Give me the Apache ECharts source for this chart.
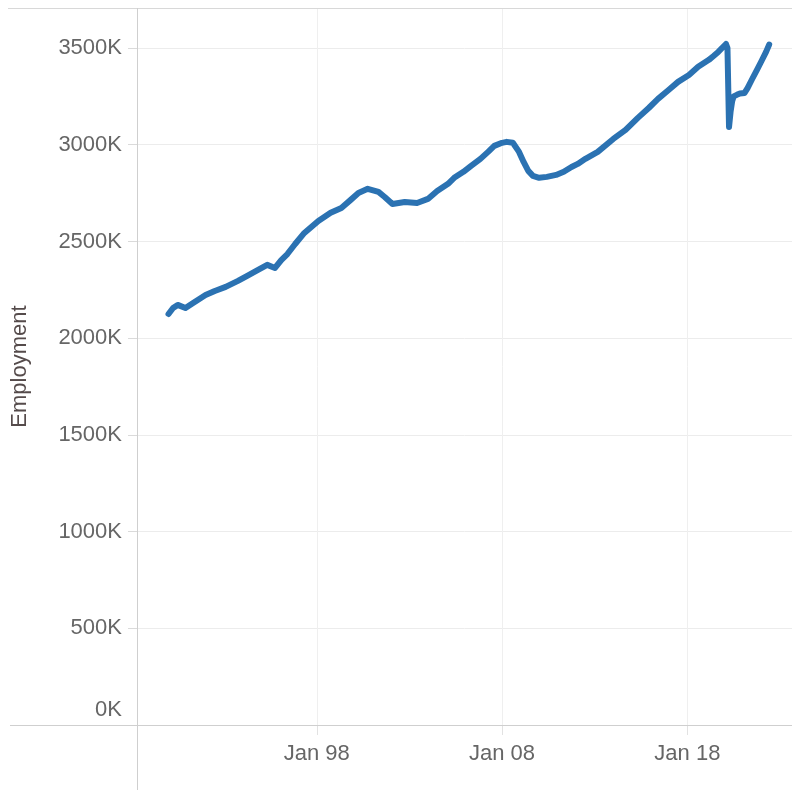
<!DOCTYPE html>
<html>
<head>
<meta charset="utf-8">
<script src="https://cdn.jsdelivr.net/npm/echarts@6/dist/echarts.min.js"></script>
<style>
  html, body { margin: 0; padding: 0; background: #fff; }
  #chart { width: 792px; height: 790px; }
</style>
</head>
<body>
<div id="chart"></div>
<script>
// Monthly dates (YYYY-MM) and employment values in thousands
const dates = [
  '1990-01','1990-04','1990-07','1990-12','1991-05','1992-01','1992-07','1993-02','1993-10','1994-04',
  '1994-11','1995-05','1995-10','1996-02','1996-06','1996-11','1997-05','1998-02','1998-10','1999-05',
  '1999-11','2000-04','2000-10','2001-05','2001-09','2002-02','2002-10','2003-06','2004-01','2004-07',
  '2005-02','2005-06','2005-12','2006-05','2006-11','2007-04','2007-08','2008-01','2008-04','2008-08',
  '2008-12','2009-03','2009-06','2009-09','2010-01','2010-06','2010-12','2011-05','2011-10','2012-02',
  '2012-07','2013-03','2014-01','2014-09','2015-05','2015-12','2016-06','2017-01','2017-07','2018-02',
  '2018-08','2019-03','2019-06','2019-09','2020-02','2020-03','2020-04','2020-05','2020-06','2020-07',
  '2020-09','2020-11','2021-02','2021-04','2021-07','2021-10','2022-01','2022-04','2022-06'
];
const employment = [
  2125, 2156, 2172, 2156, 2182, 2223, 2244, 2265, 2296, 2322,
  2353, 2379, 2363, 2404, 2435, 2487, 2544, 2606, 2648, 2673,
  2715, 2751, 2772, 2756, 2730, 2694, 2704, 2699, 2720, 2761,
  2798, 2829, 2860, 2891, 2927, 2963, 2994, 3010, 3015, 3010,
  2963, 2911, 2865, 2839, 2829, 2834, 2844, 2860, 2885, 2901,
  2927, 2963, 3030, 3077, 3139, 3190, 3237, 3284, 3325, 3361,
  3403, 3439, 3459, 3480, 3521, 3500, 3092, 3170, 3225, 3250,
  3258, 3265, 3268, 3293, 3340, 3386, 3433, 3480, 3518
];
const xTickDates = ['1998-01-01', '2008-01-01', '2018-01-01'];
const yTickValues = [0, 500, 1000, 1500, 2000, 2500, 3000, 3500];
const yAxisTitle = 'Employment';

const chart = echarts.init(document.getElementById('chart'), null, { renderer: 'canvas' });
const ts = s => new Date(s + (s.length === 7 ? '-01' : '') + 'T00:00:00Z').getTime();
const FONT = 'Liberation Sans';

const option = {
  animation: false,
  backgroundColor: '#ffffff',
  grid: { left: 137, right: 0, top: 8, bottom: 65, containLabel: false },
  xAxis: {
    type: 'value',
    min: ts('1988-04-20'),
    max: ts('2023-08-25'),
    axisLine: { show: false },
    axisTick: { show: true, length: 10, lineStyle: { color: '#e2e2e2' }, customValues: xTickDates.map(ts) },
    axisLabel: {
      customValues: xTickDates.map(ts),
      margin: 18,
      color: '#666',
      fontFamily: FONT,
      fontSize: 22,
      formatter: v => 'Jan ' + String(new Date(v).getUTCFullYear()).slice(2)
    },
    splitLine: { show: true, lineStyle: { color: '#efefef', width: 1 } }
  },
  yAxis: {
    type: 'value',
    min: 0,
    max: 3707,
    name: yAxisTitle,
    nameLocation: 'middle',
    nameGap: 106,
    nameTextStyle: { color: '#554b4b', fontFamily: FONT, fontSize: 22 },
    axisLine: { show: false },
    axisTick: { show: true, length: 9, lineStyle: { color: '#dadada' }, customValues: yTickValues },
    axisLabel: {
      customValues: yTickValues,
      margin: 15,
      color: '#666',
      fontFamily: FONT,
      fontSize: 22,
      formatter: v => v === 0 ? '{z|0K}' : v + 'K',
      rich: { z: { color: '#666', fontFamily: FONT, fontSize: 22, padding: [0, 0, 30, 0] } }
    },
    splitLine: { show: true, lineStyle: { color: '#ececec', width: 1 } }
  },
  series: [{
    type: 'line',
    data: dates.map((d, i) => [ts(d), employment[i]]),
    showSymbol: false,
    smooth: false,
    lineStyle: { color: '#2b72b2', width: 6, join: 'round', cap: 'round' },
    itemStyle: { color: '#2b72b2' },
    z: 3
  }],
  graphic: [
    { type: 'line', silent: true, z: 100, shape: { x1: 8, y1: 8.5, x2: 792, y2: 8.5 }, style: { stroke: '#d8d8d8', lineWidth: 1 } },
    { type: 'line', silent: true, z: 100, shape: { x1: 137.5, y1: 8, x2: 137.5, y2: 790 }, style: { stroke: '#cfcfcf', lineWidth: 1 } },
    { type: 'line', silent: true, z: 100, shape: { x1: 10, y1: 725.5, x2: 792, y2: 725.5 }, style: { stroke: '#cfcfcf', lineWidth: 1 } }
  ]
};
chart.setOption(option);
</script>
</body>
</html>
